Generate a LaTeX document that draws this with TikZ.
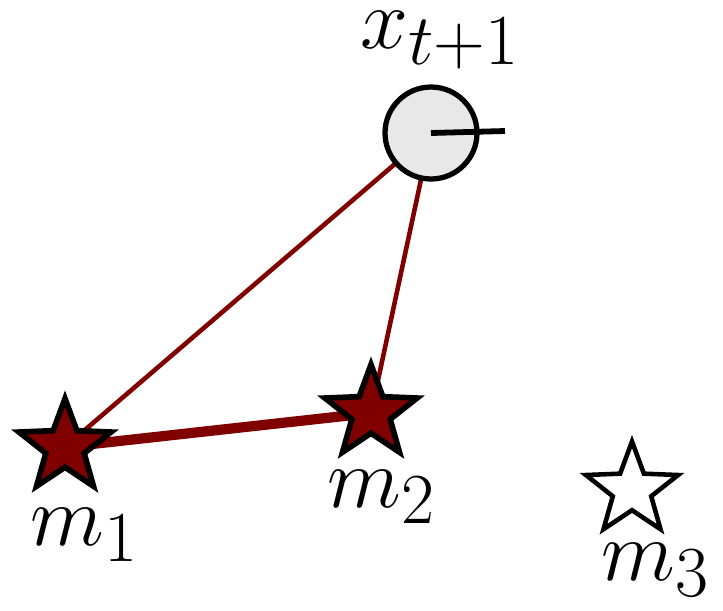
\documentclass[tikz,border=0pt]{standalone}
\usepackage{amsmath,amssymb}
\usepackage{xcolor}
\usepackage{tikz}
\usetikzlibrary{shapes.geometric,backgrounds,positioning}

\definecolor{mapred}{RGB}{128,0,0}
\definecolor{posegray}{RGB}{232,232,232}

\begin{document}
\begin{tikzpicture}[
  x=0.02cm, y=-0.02cm,
  pose/.style={circle, draw, line width=3pt, fill=posegray, minimum size=1.84cm, inner sep=0pt},
  lm/.style={star, star points=5, star point ratio=2.4, draw, line width=3.2pt, minimum size=1.94cm, inner sep=0pt},
  seen/.style={lm, fill=mapred},
  unseen/.style={lm, fill=white, line width=2.6pt},
  lbl/.style={font=\Huge, scale=1.97, anchor=base, inner sep=0pt},
  obs/.style={draw=mapred, line width=2.6pt},
  assoc/.style={draw=mapred, line width=5.8pt}
]
  \useasboundingbox (0,0) rectangle (723,610);

  % Robot pose
  \node[pose] (X) at (431,133) {};
  \draw[line width=3.3pt] (X.center) -- ++(74,-2);
  \node[lbl] (Xl) at (440,48) {$x_{t+1}$};

  % Landmarks
  \node[seen] (M1) at (65,447) {};
  \node[seen] (M2) at (371,413) {};
  \node[unseen] (M3) at (632,490) {};
  \node[lbl] (M1l) at (85,545) {$m_1$};
  \node[lbl] (M2l) at (382,507) {$m_2$};
  \node[lbl] (M3l) at (656,580) {$m_3$};

  % Measurements (behind the nodes)
  \begin{pgfonlayer}{background}
    \draw[obs] (M1.center) -- (X.center);
    \draw[obs] (M2.center) -- (X.center);
    \draw[assoc] (M1.center) -- (M2.center);
  \end{pgfonlayer}
\end{tikzpicture}
\end{document}
